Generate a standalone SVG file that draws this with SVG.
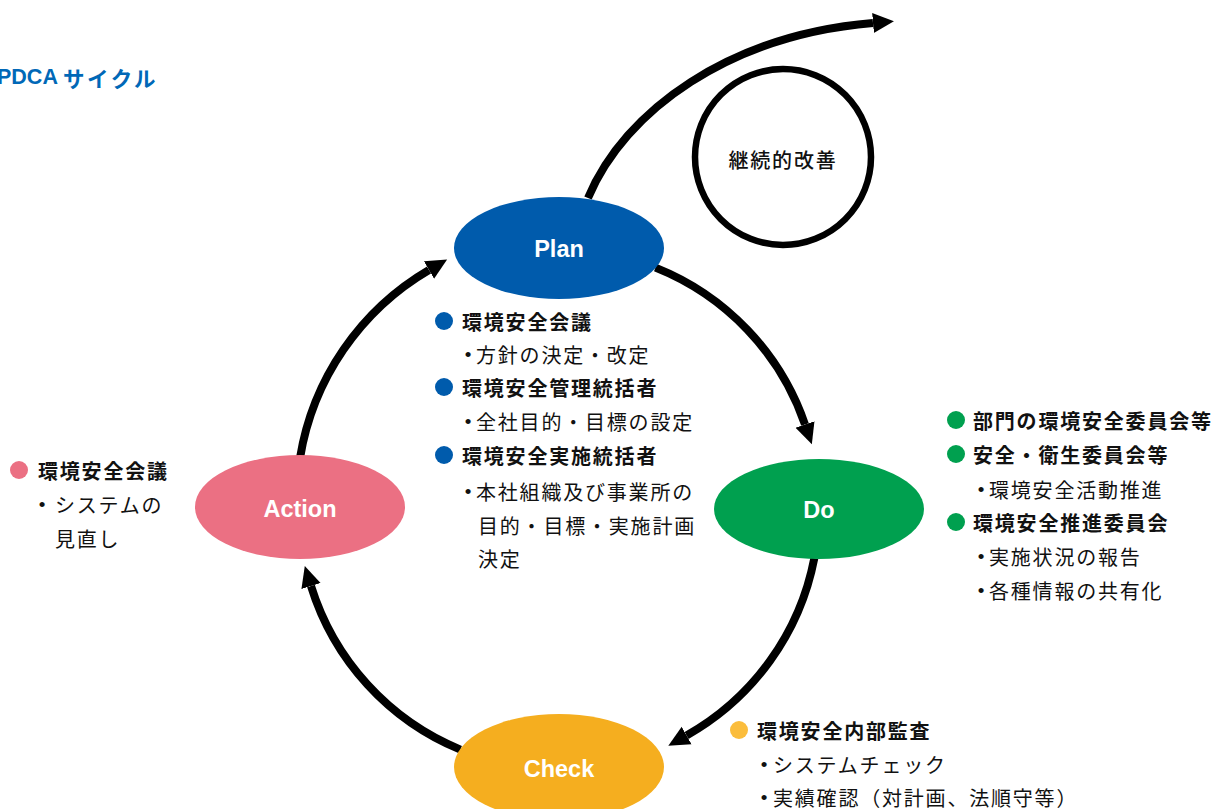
<svg xmlns="http://www.w3.org/2000/svg" width="1227" height="809" viewBox="0 0 1227 809">
<style>
.t{font-family:"Noto Sans CJK JP","Noto Sans",sans-serif;font-size:20px;letter-spacing:1.8px;fill:#111;dominant-baseline:central}
.h{font-weight:700}
.lbl{font-family:"Liberation Sans",Arial,sans-serif;font-weight:700;font-size:23.5px;fill:#fff;text-anchor:middle;dominant-baseline:central}
.dot{font-family:"Liberation Sans",Arial,sans-serif;font-size:19px;fill:#111;text-anchor:middle;dominant-baseline:central}
.arc{fill:none;stroke:#000;stroke-width:8;marker-end:url(#ah)}
</style>
<defs>
<marker id="ah" markerUnits="userSpaceOnUse" markerWidth="24" markerHeight="24" viewBox="0 -12 24 24" refX="0" refY="0" orient="auto">
<path d="M0,-10 L21,0 L0,10 Z" fill="#000"/>
</marker>
</defs>
<rect width="1227" height="809" fill="#fff"/>
<text x="-3" y="77" font-family="Liberation Sans,Arial,'Noto Sans CJK JP',sans-serif" font-weight="700" font-size="21.5" fill="#0068B7" dominant-baseline="central">PDCA <tspan font-family="Noto Sans CJK JP,sans-serif" letter-spacing="2.5">サイクル</tspan></text>

<g id="connectors">
<path class="arc" d="M655.5,267.6 A260,260 0 0 1 805,424.5"/>
<path class="arc" d="M814.3,558.2 A260,260 0 0 1 686.6,735.5"/>
<path class="arc" d="M460.4,749.6 A260,260 0 0 1 311,586"/>
<path class="arc" d="M300,458 A268,268 0 0 1 429,270"/>
<path class="arc" d="M588,198 C625,110 730,35 873,23"/>
</g>

<g id="improve">
<circle cx="783" cy="157" r="88" fill="none" stroke="#000" stroke-width="6.5"/>
<text class="t" x="783" y="159" text-anchor="middle" font-size="21.5" letter-spacing="0.5" font-weight="500">継続的改善</text>
</g>

<g id="plan">
<ellipse cx="559" cy="248" rx="105" ry="51" fill="#005BAC"/>
<text class="lbl" x="559" y="249">Plan</text>
</g>
<g id="do">
<ellipse cx="819" cy="509" rx="105" ry="50" fill="#00A04F"/>
<text class="lbl" x="819" y="510">Do</text>
</g>
<g id="check">
<ellipse cx="559" cy="767" rx="105" ry="53" fill="#F5AE1F"/>
<text class="lbl" x="559" y="769">Check</text>
</g>
<g id="action">
<ellipse cx="300" cy="507" rx="105" ry="52" fill="#EB7083"/>
<text class="lbl" x="300" y="509">Action</text>
</g>

<g id="plan-notes">
<circle cx="444" cy="321" r="9" fill="#005BAC"/>
<text class="t h" x="462" y="321">環境安全会議</text>
<text class="dot" x="468" y="354">•</text>
<text class="t" x="476" y="354">方針の決定・改定</text>
<circle cx="444" cy="387" r="9" fill="#005BAC"/>
<text class="t h" x="462" y="387">環境安全管理統括者</text>
<text class="dot" x="468" y="421">•</text>
<text class="t" x="476" y="421">全社目的・目標の設定</text>
<circle cx="444" cy="455" r="9" fill="#005BAC"/>
<text class="t h" x="462" y="455">環境安全実施統括者</text>
<text class="dot" x="468" y="491">•</text>
<text class="t" x="476" y="491">本社組織及び事業所の</text>
<text class="t" x="478" y="525">目的・目標・実施計画</text>
<text class="t" x="478" y="558">決定</text>
</g>

<g id="do-notes">
<circle cx="956" cy="420" r="9" fill="#00A04F"/>
<text class="t h" x="973" y="420">部門の環境安全委員会等</text>
<circle cx="956" cy="454" r="9" fill="#00A04F"/>
<text class="t h" x="973" y="454">安全・衛生委員会等</text>
<text class="dot" x="981" y="489">•</text>
<text class="t" x="989" y="489">環境安全活動推進</text>
<circle cx="956" cy="522" r="9" fill="#00A04F"/>
<text class="t h" x="973" y="522">環境安全推進委員会</text>
<text class="dot" x="981" y="556">•</text>
<text class="t" x="989" y="556">実施状況の報告</text>
<text class="dot" x="981" y="590">•</text>
<text class="t" x="989" y="590">各種情報の共有化</text>
</g>

<g id="check-notes">
<circle cx="739" cy="730" r="9" fill="#FBBD3C"/>
<text class="t h" x="757" y="730">環境安全内部監査</text>
<text class="dot" x="764" y="764">•</text>
<text class="t" x="773" y="764">システムチェック</text>
<text class="dot" x="764" y="797">•</text>
<text class="t" x="773" y="797">実績確認（対計画、法順守等）</text>
</g>

<g id="action-notes">
<circle cx="19" cy="470" r="9" fill="#EB7083"/>
<text class="t h" x="38" y="470">環境安全会議</text>
<text class="dot" x="42" y="504">•</text>
<text class="t" x="55" y="504">システムの</text>
<text class="t" x="55" y="538">見直し</text>
</g>
</svg>
